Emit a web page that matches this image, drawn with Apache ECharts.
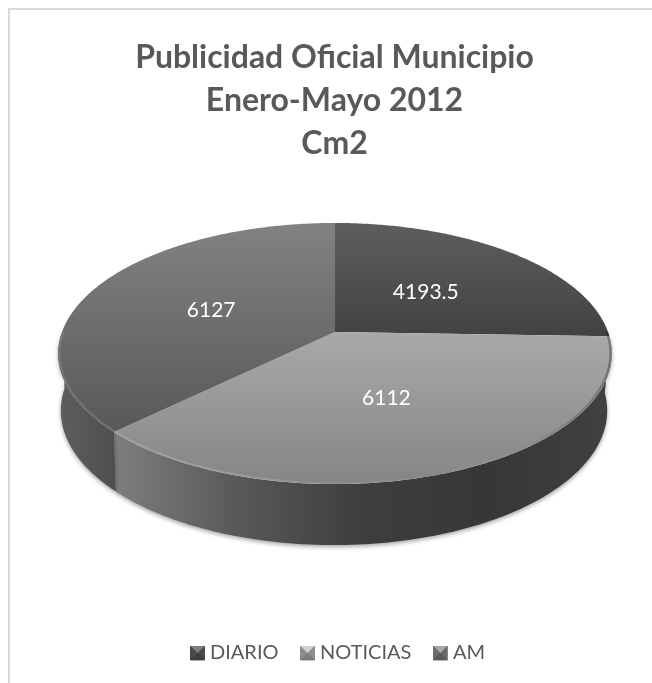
<!DOCTYPE html>
<html>
<head>
<meta charset="utf-8">
<style>
  html, body { margin: 0; padding: 0; background: #fff; }
  #chart { width: 652px; height: 683px; }
</style>
<script src="https://cdn.jsdelivr.net/npm/echarts@6/dist/echarts.min.js"></script>
</head>
<body>
<div id="chart"></div>
<script>
var titleLines = ["Publicidad Oficial Municipio", "Enero-Mayo 2012", "Cm2"];
var categories = ["DIARIO", "NOTICIAS", "AM"];
var values = [4193.5, 6112, 6127];

// tonos de cada rebanada: [arriba, abajo] de la cara y tramos de la pared
var topShades = [["#5e5e5e", "#424242"], ["#a9a9a9", "#858585"], ["#828282", "#585858"]];
var wallShades = [
  ["#3e3e3e", "#3e3e3e"],
  ["#7e7e7e", "#585858", "#3e3e3e", "#373737", "#404040"],
  ["#5e5e5e", "#4e4e4e"]
];

// perspectiva del disco: centro (cx, cy), radio R, fuga c
var cx = 335, cy = 332, R = 273, c = 0.1648, b = -72.3;
var total = values.reduce(function (a, v) { return a + v; }, 0);

function toTop(theta, r) {
  var u = Math.sin(theta) * r, v = Math.cos(theta) * r;
  var w = 1 + c * v;
  return [cx + R * u / w, (cy + b * v) / w];
}
function toBottom(theta) {
  var p = toTop(theta, 1);
  return [cx - 1 + (p[0] - cx) * 0.987, p[1] + 61 - (484 - p[1]) * 0.03];
}
function arc(fn, a0, a1) {
  var pts = [];
  var n = Math.max(2, Math.ceil(Math.abs(a1 - a0) / 0.01));
  for (var i = 0; i <= n; i++) {
    pts.push(fn(a0 + (a1 - a0) * i / n));
  }
  return pts;
}
function gradient(x0, y0, x1, y1, colors) {
  return new echarts.graphic.LinearGradient(x0, y0, x1, y1, colors.map(function (col, i) {
    return { offset: i / (colors.length - 1), color: col };
  }), true);
}

function sliceRenderer(index) {
  var before = values.slice(0, index).reduce(function (a, v) { return a + v; }, 0);
  var a0 = before / total * Math.PI * 2;
  var a1 = (before + values[index]) / total * Math.PI * 2;
  var mid = (a0 + a1) / 2;

  return function () {
    var topArc = arc(function (t) { return toTop(t, 1); }, a0, a1);
    var yMin = Math.min.apply(null, topArc.map(function (p) { return p[1]; }).concat([cy]));
    var yMax = Math.max.apply(null, topArc.map(function (p) { return p[1]; }).concat([cy]));
    var children = [];

    // pared lateral, solo la mitad delantera
    var w0 = Math.max(a0, Math.PI / 2), w1 = Math.min(a1, Math.PI * 1.5);
    if (w1 > w0) {
      var wallTop = arc(function (t) { return toTop(t, 1); }, w0, w1);
      var wallBottom = arc(toBottom, w1, w0);
      var xs = wallTop.concat(wallBottom).map(function (p) { return p[0]; });
      var xMin = Math.min.apply(null, xs), xMax = Math.max.apply(null, xs);
      children.push({
        type: "polygon",
        z2: 1,
        shape: { points: wallTop.concat(wallBottom) },
        style: {
          fill: gradient(xMin, 0, xMax, 0, wallShades[index]),
          shadowBlur: 4,
          shadowColor: "rgba(0,0,0,0.35)",
          shadowOffsetY: 2
        }
      });
    }

    // cara superior
    children.push({
      type: "polygon",
      z2: 2,
      shape: { points: [[cx, cy]].concat(topArc) },
      style: { fill: gradient(0, yMin, 0, yMax, topShades[index]) }
    });

    // bisel del borde delantero: claro a la izquierda, oscuro a la derecha
    if (w1 > w0) {
      children.push({
        type: "polyline",
        z2: 3,
        shape: { points: arc(function (t) { return toTop(t, 0.995); }, w0, w1) },
        style: {
          fill: null,
          lineWidth: 2,
          stroke: gradient(57, 0, 611, 0, [
            "rgba(255,255,255,0.1)",
            "rgba(255,255,255,0.15)",
            "rgba(255,255,255,0)",
            "rgba(0,0,0,0.3)"
          ])
        }
      });
    }

    // etiqueta del valor
    var lp = toTop(mid, 0.5);
    children.push({
      type: "text",
      z2: 4,
      x: lp[0] - 2,
      y: lp[1] + 2.5,
      style: {
        text: String(values[index]),
        fill: "#ffffff",
        font: "21px Lato",
        align: "center",
        verticalAlign: "middle"
      }
    });
    return { type: "group", children: children };
  };
}

function bevelIcon(dark, mid, light) {
  var svg = "<svg xmlns='http://www.w3.org/2000/svg' width='15' height='15'>" +
    "<rect width='15' height='15' fill='" + dark + "'/>" +
    "<polygon points='0,15 7.5,7.5 15,15' fill='" + mid + "'/>" +
    "<polygon points='0,0 15,0 7.5,7.5' fill='" + light + "'/></svg>";
  return "image://data:image/svg+xml," + encodeURIComponent(svg);
}
var legendIcons = [
  bevelIcon("#4a4a4a", "#3e3e3e", "#808080"),
  bevelIcon("#8c8c8c", "#7a7a7a", "#d0d0d0"),
  bevelIcon("#6a6a6a", "#585858", "#a8a8a8")
];

var myChart = echarts.init(document.getElementById("chart"));
myChart.setOption({
  animation: false,
  backgroundColor: "#ffffff",
  title: {
    text: titleLines.join("\n"),
    left: 329.5,
    top: 31,
    textAlign: "center",
    textStyle: {
      color: "#595959",
      fontFamily: "Lato",
      fontWeight: "bold",
      fontSize: 32,
      lineHeight: 43
    }
  },
  legend: {
    bottom: 15,
    left: 185,
    itemWidth: 15,
    itemHeight: 15,
    itemGap: 21.5,
    textStyle: { color: "#595959", fontFamily: "Lato", fontSize: 20 },
    data: categories.map(function (name, i) {
      return { name: name, icon: legendIcons[i] };
    })
  },
  graphic: [
    {
      type: "polyline",
      silent: true,
      shape: { points: [[9, 683], [9, 9], [652, 9]] },
      style: { fill: null, stroke: "#d9d9d9", lineWidth: 2 }
    }
  ],
  series: categories.map(function (name, i) {
    return {
      type: "custom",
      name: name,
      coordinateSystem: "none",
      silent: true,
      itemStyle: { color: topShades[i][1] },
      renderItem: sliceRenderer(i),
      data: [values[i]]
    };
  })
});
</script>
</body>
</html>
